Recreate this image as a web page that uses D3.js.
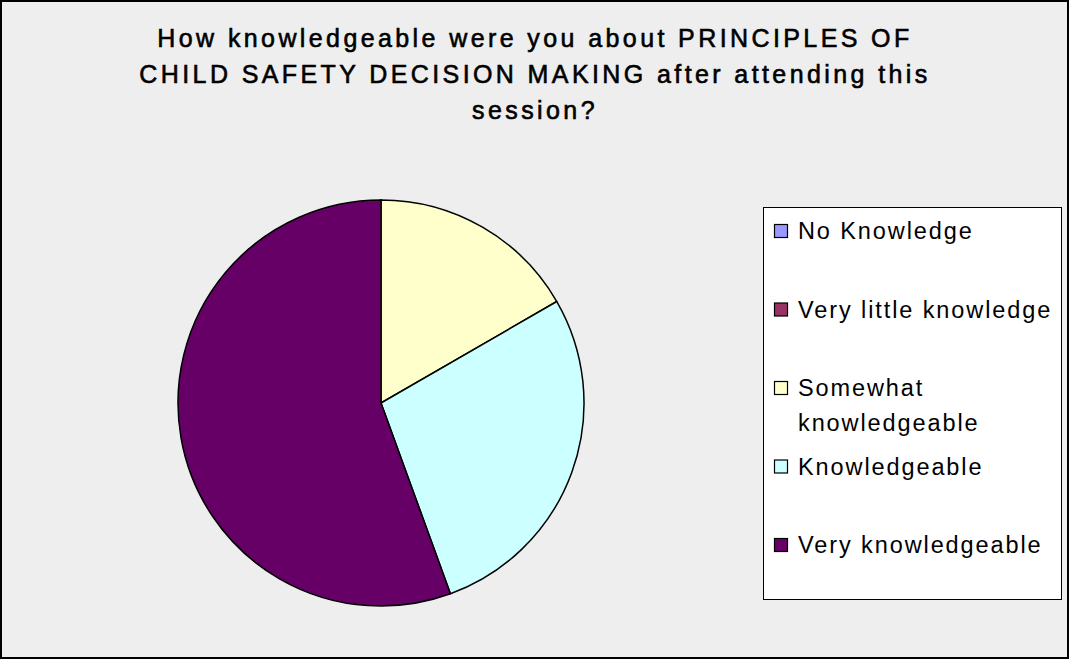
<!DOCTYPE html>
<html lang="en">
<head>
<meta charset="UTF-8">
<title>Child safety decision making</title>
<script src="https://cdn.jsdelivr.net/npm/d3@7"></script>
<style>
    body { margin: 0; background: #fff; }
    svg { display: block; font-family: "Liberation Sans", Arial, sans-serif; }
</style>
</head>
<body>
<svg width="1070" height="660"></svg>
<script>
    const titleLines = ["How knowledgeable were you about PRINCIPLES OF",
        "CHILD SAFETY DECISION MAKING after attending this", "session?"];
    const categories = ["No Knowledge", "Very little knowledge", "Somewhat knowledgeable",
        "Knowledgeable", "Very knowledgeable"];
    const legendLines = [["No Knowledge"], ["Very little knowledge"], ["Somewhat", "knowledgeable"],
        ["Knowledgeable"], ["Very knowledgeable"]];
    const counts = [0, 0, 3, 5, 10];
    const colors = ["#9999ff", "#993366", "#ffffcc", "#ccffff", "#660066"];

    const width = 1070, height = 660;
    const svg = d3.select("svg");

    // chart area + border
    svg.append("rect")
        .attr("x", 1).attr("y", 1)
        .attr("width", width - 3).attr("height", height - 3)
        .attr("fill", "#eeeeee")
        .attr("stroke", "#000").attr("stroke-width", 2);

    // title (regular weight, thickened a little with a stroke)
    svg.append("text")
        .attr("x", 535).attr("y", 47)
        .attr("text-anchor", "middle")
        .attr("font-size", 25)
        .attr("letter-spacing", 3.4)
        .attr("fill", "#000")
        .attr("stroke", "#000")
        .attr("stroke-width", 0.6)
        .selectAll("tspan").data(titleLines).join("tspan")
        .attr("x", 535)
        .attr("dy", (d, i) => i === 0 ? 0 : 36)
        .text(d => d);

    // pie
    const cx = 381, cy = 403, r = 203;
    const pie = d3.pie().sort(null).value(d => d)(counts);
    const arc = d3.arc().innerRadius(0).outerRadius(r);

    svg.append("g")
        .attr("transform", `translate(${cx},${cy})`)
        .selectAll("path").data(pie).join("path")
        .attr("d", arc)
        .attr("fill", (d, i) => colors[i])
        .attr("stroke", "#000")
        .attr("stroke-width", 1.5)
        .attr("stroke-linejoin", "round");

    // legend
    const legend = svg.append("g");
    legend.append("rect")
        .attr("x", 763.5).attr("y", 207.5)
        .attr("width", 298).attr("height", 392)
        .attr("fill", "#fff")
        .attr("stroke", "#000").attr("stroke-width", 1);

    const baseY = d3.scalePoint().domain(categories).range([239, 553]);
    const items = legend.selectAll("g.item").data(categories).join("g")
        .attr("class", "item")
        .attr("transform", d => `translate(0,${baseY(d)})`);

    items.append("rect")
        .attr("x", 774.5).attr("y", -14.5)
        .attr("width", 13).attr("height", 13)
        .attr("fill", (d, i) => colors[i])
        .attr("stroke", "#000").attr("stroke-width", 1.2);

    items.append("text")
        .attr("x", 798).attr("y", 0)
        .attr("font-size", 23.5)
        .attr("letter-spacing", 1.9)
        .attr("fill", "#000")
        .selectAll("tspan").data((d, i) => legendLines[i]).join("tspan")
        .attr("x", 798)
        .attr("dy", (d, i) => i === 0 ? 0 : 35)
        .text(d => d);
</script>
</body>
</html>
